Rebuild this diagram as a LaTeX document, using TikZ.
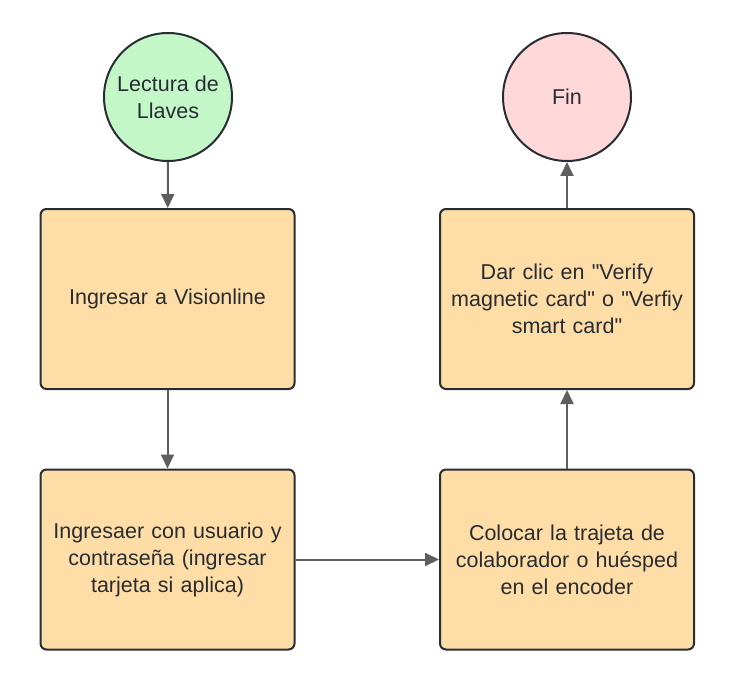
\documentclass[tikz,border=0pt]{standalone}
\usepackage{fontspec}
\setmainfont{Liberation Sans}
\usetikzlibrary{arrows.meta}
\definecolor{boxfill}{HTML}{FFDDA6}
\definecolor{startfill}{HTML}{C3F7C8}
\definecolor{endfill}{HTML}{FFD9DA}
\definecolor{border}{HTML}{282C33}
\definecolor{arrowc}{HTML}{5E5E5E}
\tikzset{
  stepbox/.style={draw=border, fill=boxfill, line width=2pt, rounded corners=6pt,
    minimum width=254pt, minimum height=180pt, text width=248pt, align=center,
    inner sep=0pt, font=\fontsize{21.5pt}{27pt}\selectfont, text=border},
  terminal/.style={draw=border, circle, line width=2pt, minimum size=128pt,
    inner sep=0pt, align=center, font=\fontsize{21.5pt}{27pt}\selectfont, text=border},
  flow/.style={draw=arrowc, line width=2pt, -{Triangle[length=14pt,width=13pt]}}
}
\newcommand{\dq}{\textquotedbl}
\begin{document}
\begin{tikzpicture}[x=1pt,y=-1pt]
\useasboundingbox (0,0) rectangle (734,690);
\node[terminal, fill=startfill] (start) at (168,97) {Lectura de\\Llaves};
\node[terminal, fill=endfill] (fin) at (567,97) {Fin};
\node[stepbox] (b1) at (167.5,299) {Ingresar a Visionline};
\node[stepbox] (b2) at (167.5,559.5) {Ingresaer con usuario y\\contraseña (ingresar\\tarjeta si aplica)};
\node[stepbox] (b3) at (567,559.5) {Colocar la trajeta de\\colaborador o huésped\\en el encoder};
\node[stepbox] (b4) at (567,299) {Dar clic en \dq Verify\\magnetic card\dq{} o \dq Verfiy\\smart card\dq};
\draw[flow] (start) -- (b1);
\draw[flow] (b1) -- (b2);
\draw[flow] (b2) -- (b3);
\draw[flow] (b3) -- (b4);
\draw[flow] (b4) -- (fin);
\end{tikzpicture}
\end{document}
